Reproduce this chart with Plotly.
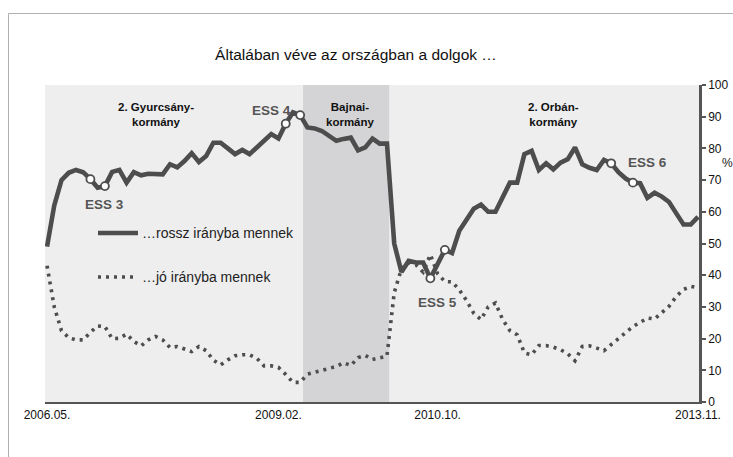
import pandas as pd
import plotly.graph_objects as go

# Monthly categories 2006.05 .. 2013.11
months = [p.strftime("%Y.%m.") for p in pd.period_range("2006-05", "2013-11", freq="M")]

rossz = [
    49.0, 62.0, 70.0, 72.3, 73.2, 72.5, 70.3, 67.6, 68.1, 72.6,
    73.2, 69.2, 72.5, 71.5, 72.0, 71.8, 71.8, 75.0, 74.0, 76.0,
    78.5, 75.7, 77.6, 81.8, 81.8, 80.0, 78.2, 79.5, 78.2, 80.3,
    82.3, 84.5, 83.1, 87.8, 91.4, 90.5, 86.6, 86.3, 85.5, 84.0,
    82.4, 83.0, 83.4, 79.4, 80.3, 83.1, 81.5, 81.5, 50.0, 41.0,
    44.5, 44.0, 44.0, 39.0, 43.5, 48.0, 47.0, 54.0, 57.5, 61.0,
    62.3, 60.0, 60.0, 65.0, 69.2, 69.2, 78.2, 79.2, 73.2, 75.3,
    73.4, 75.5, 76.6, 80.3, 75.0, 73.9, 73.2, 76.4, 75.3, 72.5,
    70.5, 69.2, 69.0, 64.4, 66.0, 64.8, 63.1, 59.5, 56.0, 56.0,
    58.4,
]

jo = [
    43.0, 30.0, 22.5, 20.3, 19.6, 19.6, 22.0, 24.0, 23.8, 20.0,
    20.1, 21.4, 19.1, 17.7, 19.6, 20.7, 19.6, 17.2, 17.5, 16.7,
    15.9, 17.5, 16.2, 13.2, 11.7, 13.3, 14.6, 14.9, 14.9, 13.8,
    11.4, 11.4, 10.9, 8.7, 6.2, 6.2, 8.8, 9.4, 10.0, 10.5,
    11.2, 12.4, 11.5, 14.0, 14.7, 13.4, 14.0, 14.5, 34.5, 42.0,
    44.0, 43.3, 41.0, 46.5, 40.5, 38.0, 37.9, 35.4, 32.0, 28.0,
    26.0, 30.0, 31.2, 26.0, 22.5, 21.2, 15.5, 14.9, 17.8, 17.8,
    17.3, 16.5, 15.2, 13.0, 17.5, 17.7, 17.0, 16.2, 18.1, 20.0,
    21.9, 23.8, 25.1, 26.5, 26.2, 28.1, 30.2, 33.3, 35.5, 36.5,
    36.0,
]

ess_months = ["2006.11.", "2007.01.", "2009.02.", "2009.04.",
              "2010.10.", "2010.12.", "2012.11.", "2013.02."]
ess_labels = ["ESS 3", "ESS 4", "ESS 5", "ESS 6"]
ess_label_pos = [("2007.01.", 62.2), ("2008.12.", 91.8), ("2010.11.", 31.5), ("2013.04.", 75.4)]

gov_labels = ["<b>2. Gyurcsány-<br>kormány</b>", "<b>Bajnai-<br>kormány</b>", "<b>2. Orbán-<br>kormány</b>"]
gov_label_x = ["2007.08.", "2009.11.", "2012.03."]

bajnai_span = (35.4, 47.3)

tick_labels = ["2006.05.", "2009.02.", "2010.10.", "2013.11."]
tick_at = ["2006.05.", "2009.01.", "2010.11.", "2013.11."]  # where the labels sit in the picture
legend_texts = ["…rossz irányba mennek", "…jó irányba mennek"]
title = "Általában véve az országban a dolgok …"

LINE = "#4d4d4d"
FONT = "Liberation Sans, Arial, sans-serif"
DOT = "3px,5px"

fig = go.Figure()
fig.add_trace(go.Scatter(x=months, y=jo, mode="lines",
                         line=dict(color=LINE, width=3.6, dash=DOT),
                         showlegend=False, hoverinfo="skip"))
fig.add_trace(go.Scatter(x=months, y=rossz, mode="lines",
                         line=dict(color=LINE, width=4.6),
                         showlegend=False, hoverinfo="skip"))
ess_vals = [rossz[months.index(m)] for m in ess_months]
fig.add_trace(go.Scatter(x=ess_months, y=ess_vals, mode="markers",
                         marker=dict(symbol="circle", size=8, color="white",
                                     line=dict(color=LINE, width=1.8)),
                         showlegend=False, hoverinfo="skip"))

W, H = 733, 457
PL, PR, PT, PB = 45, 699, 85, 402  # plot area in page pixels
pw, ph = PR - PL, PB - PT
L, T, R, B = PL, PT, W - PR, H - PB


def px(xp):
    return (xp - PL) / pw


def py(yp):
    return (PB - yp) / ph


FRAME = dict(color="#b0b0b0", width=1)
shapes = [
    dict(type="rect", xref="x", yref="y", x0=bajnai_span[0], x1=bajnai_span[1], y0=0, y1=100,
         fillcolor="#d4d4d6", line=dict(width=0), layer="below"),
    # outer frame (top and left edges; the others lie outside the picture)
    dict(type="line", xref="paper", yref="paper", x0=px(8.5), x1=px(733), y0=py(13.5), y1=py(13.5),
         line=FRAME),
    dict(type="line", xref="paper", yref="paper", x0=px(8.5), x1=px(8.5), y0=py(13.5), y1=py(457),
         line=FRAME),
    # legend samples
    dict(type="line", xref="paper", yref="paper", x0=px(98), x1=px(138), y0=py(233), y1=py(233),
         line=dict(color=LINE, width=4.6)),
    dict(type="line", xref="paper", yref="paper", x0=px(98), x1=px(138), y0=py(277), y1=py(277),
         line=dict(color=LINE, width=3.6, dash=DOT)),
]

annotations = []
for t, yy in zip(legend_texts, [233, 277]):
    annotations.append(dict(xref="paper", yref="paper", x=px(140), y=py(yy), text=t,
                            showarrow=False, xanchor="left", yanchor="middle",
                            font=dict(family=FONT, size=14, color="#222")))
for t, xm in zip(gov_labels, gov_label_x):
    annotations.append(dict(xref="x", yref="paper", x=xm, y=py(115), text=t, showarrow=False,
                            xanchor="center", yanchor="middle",
                            font=dict(family=FONT, size=11.5, color="#111")))
for t, (xm, yv) in zip(ess_labels, ess_label_pos):
    annotations.append(dict(xref="x", yref="y", x=xm, y=yv, text="<b>" + t + "</b>", showarrow=False,
                            xanchor="center", yanchor="middle",
                            font=dict(family=FONT, size=13.5, color="#555555")))
annotations.append(dict(xref="paper", yref="paper", x=px(727), y=py(163), text="%",
                        showarrow=False, xanchor="center", yanchor="middle",
                        font=dict(family=FONT, size=12, color="#222")))

fig.update_layout(
    width=W, height=H,
    margin=dict(l=L, r=R, t=T, b=B, pad=0, autoexpand=False),
    paper_bgcolor="white",
    plot_bgcolor="#eeeeee",
    title=dict(text=title, x=356 / W, xanchor="center", y=1 - 55 / H, yanchor="middle",
               font=dict(family=FONT, size=15.5, color="#111")),
    shapes=shapes,
    annotations=annotations,
    showlegend=False,
    xaxis=dict(type="category", range=[-0.28, 90.14], tickmode="array", tickvals=tick_at,
               ticktext=tick_labels, showgrid=False, zeroline=False, showline=True,
               linecolor="#555555", linewidth=2.2, ticks="", automargin=False,
               tickfont=dict(family=FONT, size=12, color="#111")),
    yaxis=dict(range=[0, 100], dtick=10, side="right", showgrid=False, zeroline=False,
               showline=True, linecolor="#555555", linewidth=2.6, ticks="outside",
               ticklen=4, tickwidth=1.5, tickcolor="#555555", automargin=False,
               tickfont=dict(family=FONT, size=12, color="#111")),
)

fig.write_html("out.html", config={"displayModeBar": False},
               post_script="document.body.style.margin='0';document.body.style.overflow='hidden';")
